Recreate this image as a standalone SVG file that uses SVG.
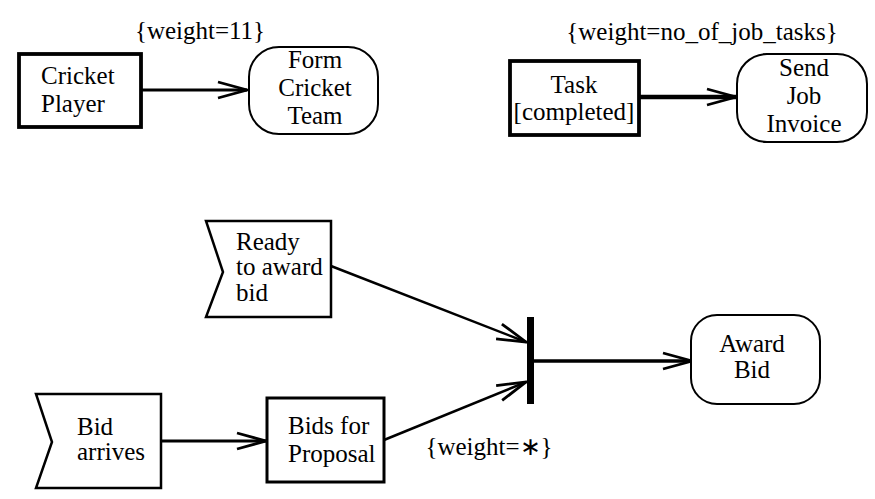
<svg xmlns="http://www.w3.org/2000/svg" width="875" height="499" viewBox="0 0 875 499">
<style>
  text { font-family: "Liberation Serif", "Times New Roman", serif; font-size: 25px; fill: #000; }
  .c { text-anchor: middle; }
  .node { fill: #fff; stroke: #000; }
  .edge { fill: none; stroke: #000; }
</style>
<defs>
  <marker id="open" markerUnits="userSpaceOnUse" viewBox="-32 -12 36 24" markerWidth="36" markerHeight="24" refX="0" refY="0" orient="auto" overflow="visible">
    <path d="M-29,-8 L0,0 L-29,8" fill="none" stroke="#000" stroke-width="2.8" stroke-linejoin="miter"/>
  </marker>
</defs>
<rect width="875" height="499" fill="#fff"/>

<g id="edges">
  <line class="edge" x1="141" y1="90" x2="247" y2="90" stroke-width="3" marker-end="url(#open)"/>
  <line class="edge" x1="639" y1="97" x2="736" y2="97" stroke-width="4.5" marker-end="url(#open)"/>
  <line class="edge" x1="331" y1="266" x2="526" y2="342" stroke-width="2.5" marker-end="url(#open)"/>
  <line class="edge" x1="161" y1="441" x2="266" y2="441" stroke-width="3" marker-end="url(#open)"/>
  <line class="edge" x1="384" y1="440" x2="526" y2="382" stroke-width="2.5" marker-end="url(#open)"/>
  <line class="edge" x1="533" y1="361" x2="692" y2="361" stroke-width="3.5" marker-end="url(#open)"/>
  <text x="200" y="39" class="c">{weight=11}</text>
  <text x="702" y="40" class="c">{weight=no_of_job_tasks}</text>
  <text x="489" y="455" class="c">{weight=∗}</text>
</g>

<g id="cricket-player">
  <rect class="node" x="19" y="54" width="122" height="73" stroke-width="3.8"/>
  <text x="41" y="84">Cricket</text>
  <text x="41" y="112">Player</text>
</g>

<g id="form-cricket-team">
  <rect class="node" x="249" y="47" width="129" height="87" rx="30" ry="30" stroke-width="2"/>
  <text x="315" y="68" class="c">Form</text>
  <text x="315" y="96" class="c">Cricket</text>
  <text x="315" y="124" class="c">Team</text>
</g>

<g id="task-completed">
  <rect class="node" x="510" y="61" width="129" height="74" stroke-width="3.8"/>
  <text x="574" y="93" class="c">Task</text>
  <text x="574" y="120" class="c">[completed]</text>
</g>

<g id="send-job-invoice">
  <rect class="node" x="737" y="54" width="130" height="88" rx="30" ry="30" stroke-width="2"/>
  <text x="804" y="76" class="c">Send</text>
  <text x="804" y="104" class="c">Job</text>
  <text x="804" y="132" class="c">Invoice</text>
</g>

<g id="ready-to-award-bid">
  <polygon class="node" points="206,221 331,221 331,317 206,317 223,272" stroke-width="2.5"/>
  <text x="236" y="250">Ready</text>
  <text x="236" y="275">to award</text>
  <text x="236" y="301">bid</text>
</g>

<g id="bid-arrives">
  <polygon class="node" points="36,394 161,394 161,488 36,488 52,442" stroke-width="2.5"/>
  <text x="77" y="435">Bid</text>
  <text x="77" y="460">arrives</text>
</g>

<g id="bids-for-proposal">
  <rect class="node" x="267" y="398" width="117" height="84" stroke-width="3"/>
  <text x="288" y="434">Bids for</text>
  <text x="288" y="462">Proposal</text>
</g>

<g id="join-bar">
  <rect x="527" y="317" width="7" height="87" fill="#000"/>
</g>

<g id="award-bid">
  <rect class="node" x="691" y="315" width="129" height="89" rx="26" ry="26" stroke-width="2"/>
  <text x="752" y="352" class="c">Award</text>
  <text x="752" y="378" class="c">Bid</text>
</g>
</svg>
